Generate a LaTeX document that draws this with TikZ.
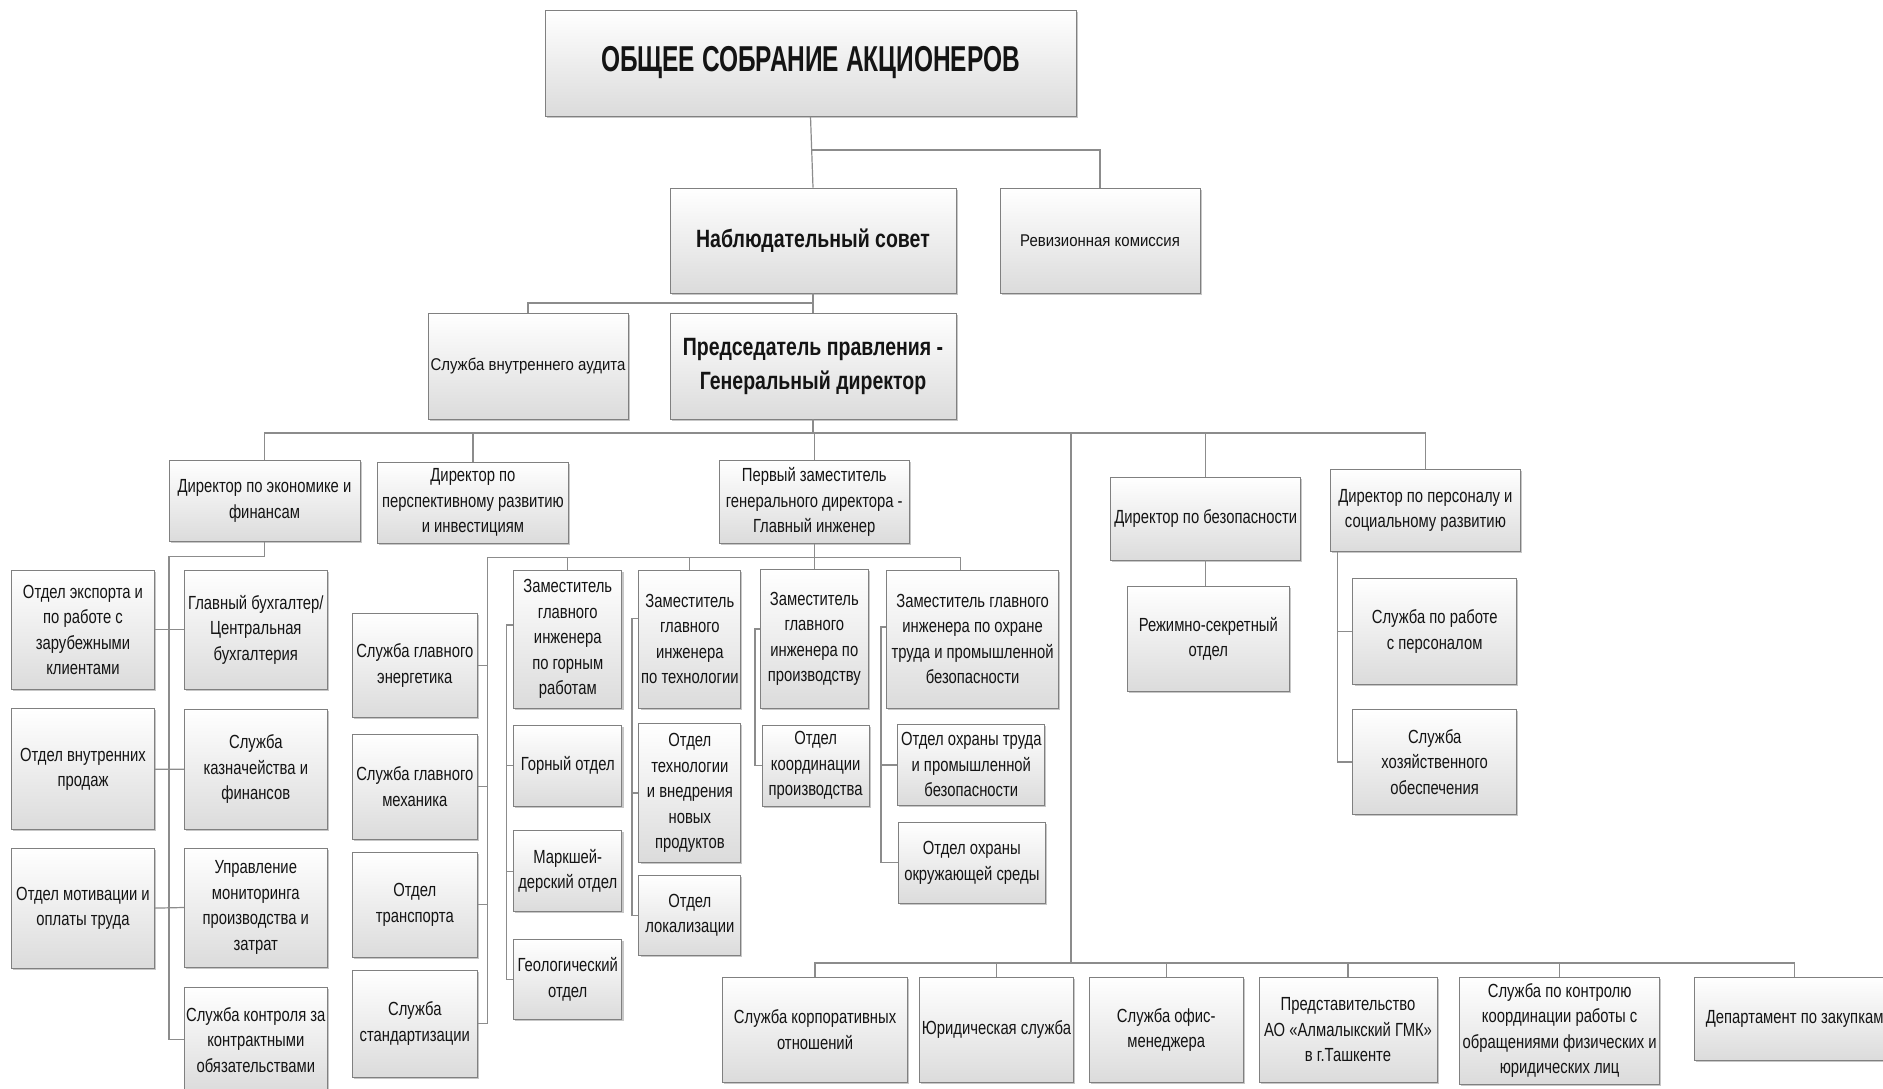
\documentclass[tikz,border=0pt]{standalone}
\usepackage{fontspec}
\setmainfont{Liberation Sans}[FakeStretch=0.78]
\newfontfamily\widefont{Liberation Sans}[FakeStretch=0.88]
\newfontfamily\titlefont{Liberation Sans}[FakeStretch=0.68]
\usetikzlibrary{shadows}
\tikzset{
  box/.style={draw=black!50, line width=0.9pt, top color=white, bottom color=black!14,
    drop shadow={shadow xshift=1.6pt, shadow yshift=-1.6pt, fill=black!40, opacity=0.55},
    align=center, inner sep=1pt, text=black!92, font=\fontsize{19}{25.5}\selectfont},
  smalltxt/.style={font=\widefont\fontsize{17}{22}\selectfont},
  boldmid/.style={font=\fontsize{25}{34}\selectfont\bfseries},
  titletxt/.style={font=\titlefont\fontsize{36}{42}\selectfont\bfseries},
  wire/.style={draw=black!45, line width=1.2pt},
}
% \orgbox[style]{name}{x1}{y1}{x2}{y2}{text}
\newcommand\orgbox[7][]{%
  \node[box,#1,minimum width={(#5-#3)*1pt},minimum height={(#6-#4)*1pt}]
    (#2) at ({(#3+#5)/2},{-(#4+#6)/2}) {#7};}
\begin{document}
\begin{tikzpicture}[x=1pt,y=1pt]
\useasboundingbox[fill=white] (0,0) rectangle (1883,-1089);

% ---------- top levels ----------
\orgbox[titletxt]{top}{545}{10}{1076}{116}{ОБЩЕЕ СОБРАНИЕ АКЦИОНЕРОВ}
\orgbox[boldmid]{nab}{670}{188}{956}{293}{Наблюдательный совет}
\orgbox[smalltxt]{rev}{1000}{188}{1200}{293}{Ревизионная комиссия}
\orgbox[smalltxt]{aud}{428}{313}{628}{419}{Служба внутреннего аудита}
\orgbox[boldmid]{pred}{670}{313}{956}{419}{Председатель правления -\\Генеральный директор}

% ---------- directors ----------
\orgbox{de}{169}{460.5}{360}{541.6}{Директор по экономике и\\финансам}
\orgbox{dpr}{377.6}{462}{568.2}{543.7}{Директор по\\перспективному развитию\\и инвестициям}
\orgbox{pz}{719.2}{460.5}{909.3}{543.7}{Первый заместитель\\генерального директора -\\Главный инженер}
\orgbox{dbez}{1110.6}{477.7}{1300.8}{560}{Директор по безопасности}
\orgbox{dpers}{1330.6}{469.3}{1520.2}{551.7}{Директор по персоналу и\\социальному развитию}

% ---------- economics ----------
\orgbox{exp}{11.3}{570}{154.7}{689.6}{Отдел экспорта и\\по работе с\\зарубежными\\клиентами}
\orgbox{vn}{11.3}{708.8}{154.7}{829.6}{Отдел внутренних\\продаж}
\orgbox{mot}{11.3}{848}{154.7}{968.2}{Отдел мотивации и\\оплаты труда}
\orgbox{gb}{184.3}{570}{327.3}{689.6}{Главный бухгалтер/\\Центральная\\бухгалтерия}
\orgbox{kaz}{184.3}{709}{327.3}{829.6}{Служба\\казначейства и\\финансов}
\orgbox{upr}{184.3}{848}{327.3}{967}{Управление\\мониторинга\\производства и\\затрат}
\orgbox{kon}{184.3}{987.4}{327.3}{1092}{Служба контроля за\\контрактными\\обязательствами}

% ---------- services column ----------
\orgbox{en}{352.3}{613}{477.3}{717.8}{Служба главного\\энергетика}
\orgbox{mech}{352.3}{734}{477.3}{839}{Служба главного\\механика}
\orgbox{tr}{352.3}{852}{477.3}{957.5}{Отдел\\транспорта}
\orgbox{st}{352.3}{970}{477.3}{1077}{Служба\\стандартизации}

% ---------- deputies ----------
\orgbox{zg}{513.6}{570.2}{621.9}{708.4}{Заместитель\\главного\\инженера\\по горным\\работам}
\orgbox{gor}{513.6}{725.5}{621.9}{806.1}{Горный отдел}
\orgbox{mar}{513.6}{830.8}{621.9}{911.5}{Маркшей-\\дерский отдел}
\orgbox{geo}{513.6}{939.2}{621.9}{1019.4}{Геологический\\отдел}

\orgbox{zt}{638.9}{570}{740.8}{708}{Заместитель\\главного\\инженера\\по технологии}
\orgbox{otn}{638.9}{723.8}{740.8}{862}{Отдел\\технологии\\и внедрения\\новых\\продуктов}
\orgbox{lok}{638.9}{875.2}{740.8}{955.4}{Отдел\\локализации}

\orgbox{zp}{760.6}{569}{868}{708.4}{Заместитель\\главного\\инженера по\\производству}
\orgbox{kor}{762.4}{725.5}{869}{806}{Отдел\\координации\\производства}

\orgbox{zo}{886.7}{570}{1058.5}{708.4}{Заместитель главного\\инженера по охране\\труда и промышленной\\безопасности}
\orgbox{ohr}{897.8}{724.6}{1044.8}{805.2}{Отдел охраны труда\\и промышленной\\безопасности}
\orgbox{okr}{898}{822.3}{1045.7}{903.4}{Отдел охраны\\окружающей среды}

% ---------- security / personnel ----------
\orgbox{rs}{1127.6}{586.7}{1289}{691}{Режимно-секретный\\отдел}
\orgbox{sp}{1352.9}{578.7}{1516.5}{684}{Служба по работе\\с персоналом}
\orgbox{sh}{1352.9}{709.7}{1516.5}{814.3}{Служба\\хозяйственного\\обеспечения}

% ---------- bottom row ----------
\orgbox{korp}{722.6}{977.3}{907.5}{1082.3}{Служба корпоративных\\отношений}
\orgbox{yur}{919.5}{977.3}{1073.4}{1082.3}{Юридическая служба}
\orgbox{ofis}{1089.3}{977.3}{1243.2}{1082.3}{Служба офис-\\менеджера}
\orgbox{pst}{1259}{977.3}{1437}{1082.3}{Представительство\\АО «Алмалыкский ГМК»\\в г.Ташкенте}
\orgbox{kontr}{1459.7}{977.3}{1659.6}{1084}{Служба по контролю\\координации работы с\\обращениями физических и\\юридических лиц}
\orgbox{dep}{1694.4}{977.7}{1895}{1060.7}{Департамент по закупкам}

% ---------- connectors ----------
\begin{scope}[wire]
% top
\draw (top.south) -- (nab.north);
\draw (top.south |- 0,-150) -| (rev.north);
\draw (nab.south) -- (pred.north);
\draw (nab.south |- 0,-303) -| (aud.north);
% director bus
\coordinate (dbus) at (pred.south |- 0,-433);
\draw (pred.south) -- (dbus);
\draw (de.north) |- (dbus) -| (dpers.north);
\draw (dpr.north) -- (dpr.north |- dbus);
\draw (pz.north) -- (pz.north |- dbus);
\draw (dbez.north) -- (dbez.north |- dbus);
\coordinate (lbus) at (1071,-433);
\coordinate (bbus) at (1071,-963);
\draw (lbus) -- (bbus);
\draw (korp.north) |- (bbus) -| (dep.north);
\foreach \n in {yur,ofis,pst,kontr} \draw (\n.north) -- (\n.north |- bbus);
% economics
\coordinate (ebus) at (169,-556.5);
\draw (de.south) |- (ebus) |- (kon.west);
\draw (exp.east) -- (gb.west);
\draw (vn.east) -- (kaz.west);
\draw (mot.east) -- (upr.west);
% chief engineer bus
\coordinate (gbus) at (487.3,-557.4);
\coordinate (gbusr) at (960.8,-557.4);
\draw (pz.south) -- (pz.south |- gbus);
\draw (gbusr) -- (gbus) |- (st.east);
\foreach \n in {en,mech,tr} \draw (gbus |- \n.east) -- (\n.east);
\draw (zg.north) -- (zg.north |- gbus);
\draw (zt.north) -- (zt.north |- gbus);
\draw (zp.north) -- (zp.north |- gbus);
\draw (gbusr) -- (gbusr |- zo.north);
% deputies' side lines
\draw (zg.west |- 0,-625) -- (506.2,-625) |- (geo.west);
\draw (gor.west -| 506.2,0) -- (gor.west);
\draw (mar.west -| 506.2,0) -- (mar.west);
\draw (zt.west |- 0,-618.4) -- (632,-618.4) |- (lok.west);
\draw (otn.west -| 632,0) -- (otn.west);
\draw (zp.west |- 0,-629) -- (755,-629) |- (kor.west);
\draw (zo.west |- 0,-627) -- (880.9,-627) |- (okr.west);
\draw (ohr.west -| 880.9,0) -- (ohr.west);
% security / personnel
\draw (dbez.south) -- (dbez.south |- rs.north);
\draw (dpers.south -| 1337.5,0) |- (sh.west);
\draw (sp.west -| 1337.5,0) -- (sp.west);
\end{scope}
\end{tikzpicture}
\end{document}
